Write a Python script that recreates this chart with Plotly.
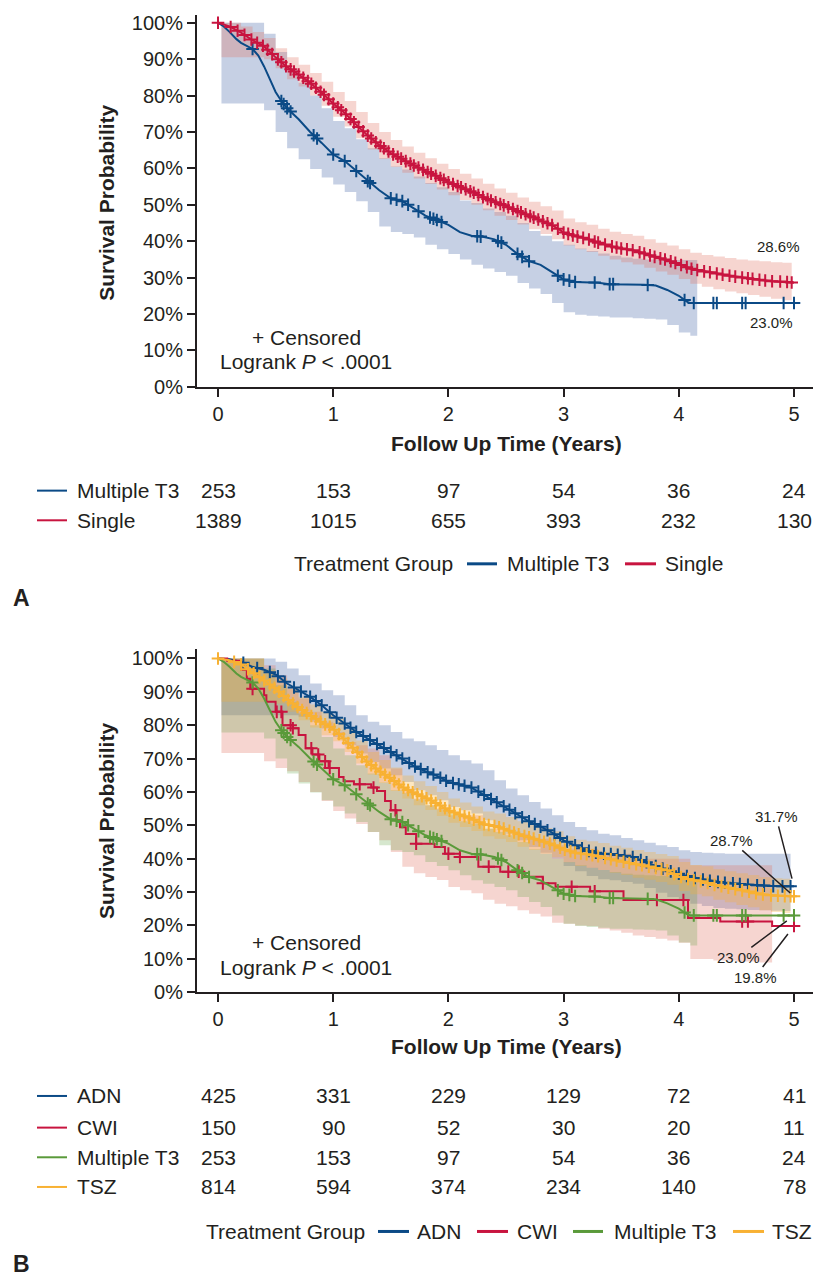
import numpy as np
import plotly.graph_objects as go

W, H = 813, 1285
FONT = "Liberation Sans, Arial, Helvetica, sans-serif"
TXT = "#231f20"

# ---------------- data ----------------
years = [0, 1, 2, 3, 4, 5]
pct_ticks = [0, 0.1, 0.2, 0.3, 0.4, 0.5, 0.6, 0.7, 0.8, 0.9, 1.0]
pct_labels = ["0%", "10%", "20%", "30%", "40%", "50%", "60%", "70%", "80%", "90%", "100%"]

grid_t = [0.0, 0.1, 0.2, 0.3, 0.4, 0.5, 0.6, 0.7, 0.8, 0.9,
          1.0, 1.1, 1.2, 1.3, 1.4, 1.5, 1.6, 1.7, 1.8, 1.9,
          2.0, 2.1, 2.2, 2.3, 2.4, 2.5, 2.6, 2.7, 2.8, 2.9,
          3.0, 3.1, 3.2, 3.3, 3.4, 3.5, 3.6, 3.7, 3.8, 3.9,
          4.0, 4.1, 4.2, 4.3, 4.4, 4.5, 4.6, 4.7, 4.8, 4.9, 5.0]

# Single (panel A)
single_s = [1.0, 0.99, 0.973, 0.952, 0.935, 0.905, 0.878, 0.858, 0.835, 0.808,
            0.778, 0.752, 0.72, 0.69, 0.664, 0.642, 0.625, 0.608, 0.593, 0.578,
            0.562, 0.549, 0.536, 0.521, 0.508, 0.496, 0.483, 0.47, 0.457, 0.444,
            0.424, 0.414, 0.407, 0.396, 0.387, 0.38, 0.375, 0.366, 0.356, 0.348,
            0.337, 0.325, 0.318, 0.313, 0.307, 0.302, 0.298, 0.294, 0.29, 0.289, 0.286]
single_band_t = [0.03, 0.1, 0.2, 0.3, 0.4, 0.5, 0.6, 0.7, 0.8, 0.9,
                 1.0, 1.1, 1.2, 1.3, 1.4, 1.5, 1.6, 1.7, 1.8, 1.9,
                 2.0, 2.1, 2.2, 2.3, 2.4, 2.5, 2.6, 2.7, 2.8, 2.9,
                 3.0, 3.1, 3.2, 3.3, 3.4, 3.5, 3.6, 3.7, 3.8, 3.9,
                 4.0, 4.1, 4.2, 4.3, 4.4, 4.5, 4.6, 4.7, 4.8, 4.9, 4.98]
single_hi = [1.0, 1.0, 0.99, 0.975, 0.958, 0.93, 0.905, 0.885, 0.862, 0.838,
             0.81, 0.785, 0.755, 0.725, 0.70, 0.678, 0.66, 0.643, 0.628, 0.613,
             0.598, 0.585, 0.572, 0.558, 0.545, 0.533, 0.52, 0.508, 0.496, 0.484,
             0.462, 0.452, 0.445, 0.434, 0.426, 0.42, 0.415, 0.405, 0.396, 0.388,
             0.378, 0.368, 0.362, 0.358, 0.354, 0.35, 0.347, 0.345, 0.342, 0.341, 0.34]
single_lo = [0.905, 0.905, 0.905, 0.905, 0.90, 0.875, 0.845, 0.825, 0.80, 0.772,
             0.742, 0.715, 0.683, 0.652, 0.626, 0.604, 0.588, 0.572, 0.557, 0.542,
             0.526, 0.513, 0.50, 0.485, 0.47, 0.458, 0.446, 0.433, 0.42, 0.405,
             0.388, 0.378, 0.37, 0.36, 0.35, 0.342, 0.336, 0.327, 0.317, 0.308,
             0.296, 0.283, 0.275, 0.268, 0.262, 0.257, 0.252, 0.247, 0.242, 0.238, 0.234]
single_cens = [0.0, 0.11, 0.17, 0.23, 0.29, 0.34, 0.39, 0.43, 0.47, 0.52, 0.55, 0.59, 0.63, 0.66,
               0.7, 0.74, 0.78, 0.81, 0.85, 0.89, 0.92, 0.96, 1.0, 1.04, 1.07, 1.11, 1.15, 1.18,
               1.22, 1.26, 1.3, 1.33, 1.37, 1.41, 1.44, 1.48, 1.52, 1.56, 1.59, 1.63, 1.67, 1.7,
               1.74, 1.78, 1.82, 1.85, 1.89, 1.93, 1.96, 2.0, 2.04, 2.08, 2.11, 2.15, 2.19, 2.22,
               2.26, 2.3, 2.34, 2.37, 2.41, 2.45, 2.48, 2.52, 2.56, 2.6, 2.63, 2.67, 2.71, 2.74,
               2.78, 2.82, 2.86, 2.9, 2.95, 3.0, 3.04, 3.08, 3.12, 3.17, 3.22, 3.27, 3.3, 3.36,
               3.42, 3.46, 3.5, 3.55, 3.6, 3.66, 3.7, 3.75, 3.79, 3.84, 3.88, 3.93, 3.97, 4.02,
               4.07, 4.11, 4.16, 4.22, 4.27, 4.33, 4.38, 4.44, 4.49, 4.55, 4.6, 4.64, 4.7, 4.75,
               4.81, 4.88, 4.94, 4.98]

# Multiple T3 (panel A blue, panel B green)
mt3_t = [0, 0.05, 0.1, 0.16, 0.2, 0.3, 0.35, 0.4, 0.45, 0.5, 0.55,
         0.6, 0.7, 0.8, 0.9, 1.0, 1.1, 1.2, 1.3, 1.4, 1.5, 1.6, 1.7, 1.8, 1.9, 2.0,
         2.1, 2.2, 2.3, 2.4, 2.5, 2.6, 2.7, 2.8, 2.9, 3.0,
         3.1, 3.2, 3.3, 3.4, 3.5, 3.6, 3.7, 3.8, 3.9, 4.0, 4.07, 4.1, 5.0]
mt3_s = [1.0, 0.99, 0.975, 0.955, 0.945, 0.928, 0.91, 0.88, 0.845, 0.81, 0.785,
         0.765, 0.735, 0.70, 0.67, 0.638, 0.62, 0.593, 0.565, 0.54, 0.518, 0.51, 0.49, 0.47, 0.458, 0.445,
         0.425, 0.415, 0.412, 0.405, 0.39, 0.365, 0.345, 0.335, 0.315, 0.295,
         0.288, 0.288, 0.286, 0.282, 0.282, 0.282, 0.28, 0.278, 0.266, 0.25, 0.234, 0.23, 0.23]
mt3_band_t = [0.03, 0.1, 0.2, 0.3, 0.4, 0.5, 0.6, 0.7, 0.8, 0.9,
              1.0, 1.1, 1.2, 1.3, 1.4, 1.5, 1.6, 1.7, 1.8, 1.9,
              2.0, 2.1, 2.2, 2.3, 2.4, 2.5, 2.6, 2.7, 2.8, 2.9,
              3.0, 3.1, 3.2, 3.3, 3.4, 3.5, 3.6, 3.7, 3.8, 3.9,
              4.0, 4.1, 4.16]
mt3_hi = [1.0, 1.0, 1.0, 1.0, 0.97, 0.92, 0.87, 0.835, 0.80, 0.765,
          0.73, 0.71, 0.68, 0.655, 0.628, 0.605, 0.597, 0.578, 0.56, 0.548,
          0.535, 0.512, 0.505, 0.49, 0.48, 0.47, 0.45, 0.428, 0.415, 0.40,
          0.39, 0.38, 0.373, 0.366, 0.36, 0.355, 0.352, 0.35, 0.348, 0.348,
          0.348, 0.348, 0.348]
mt3_lo = [0.778, 0.778, 0.778, 0.778, 0.76, 0.70, 0.655, 0.625, 0.598, 0.575,
          0.556, 0.535, 0.51, 0.48, 0.44, 0.425, 0.42, 0.41, 0.39, 0.378,
          0.365, 0.35, 0.335, 0.325, 0.315, 0.305, 0.285, 0.27, 0.255, 0.23,
          0.205, 0.198, 0.195, 0.193, 0.19, 0.19, 0.188, 0.187, 0.185, 0.17,
          0.149, 0.14, 0.14]
mt3_cens = [0.3, 0.55, 0.57, 0.6, 0.63, 0.83, 0.86, 1.0, 1.1, 1.2, 1.3, 1.32, 1.5, 1.55, 1.6,
            1.65, 1.74, 1.84, 1.87, 1.9, 1.94, 2.25, 2.28, 2.43, 2.46, 2.6, 2.64, 2.7, 2.95,
            3.0, 3.05, 3.1, 3.27, 3.4, 3.43, 3.73, 4.05, 4.13, 4.3, 4.33, 4.55, 4.58, 4.91, 5.0]

# ADN (panel B)
adn_s = [1.0, 0.998, 0.99, 0.975, 0.966, 0.952, 0.925, 0.905, 0.885, 0.86,
         0.83, 0.805, 0.78, 0.76, 0.74, 0.72, 0.70, 0.678, 0.662, 0.648,
         0.63, 0.622, 0.613, 0.593, 0.573, 0.553, 0.532, 0.512, 0.496, 0.478,
         0.455, 0.44, 0.425, 0.416, 0.414, 0.41, 0.405, 0.392, 0.378, 0.365,
         0.355, 0.345, 0.338, 0.332, 0.328, 0.325, 0.322, 0.32, 0.318, 0.317, 0.317]
b_band_t = [0.03, 0.1, 0.2, 0.3, 0.4, 0.5, 0.6, 0.7, 0.8, 0.9,
            1.0, 1.1, 1.2, 1.3, 1.4, 1.5, 1.6, 1.7, 1.8, 1.9,
            2.0, 2.1, 2.2, 2.3, 2.4, 2.5, 2.6, 2.7, 2.8, 2.9,
            3.0, 3.1, 3.2, 3.3, 3.4, 3.5, 3.6, 3.7, 3.8, 3.9,
            4.0, 4.1, 4.2, 4.3, 4.4, 4.5, 4.6, 4.7, 4.8, 4.9, 4.97]
adn_hi = [1.0, 1.0, 1.0, 1.0, 1.0, 0.99, 0.97, 0.95, 0.925, 0.905,
          0.89, 0.86, 0.83, 0.81, 0.80, 0.78, 0.76, 0.752, 0.74, 0.726,
          0.71, 0.695, 0.685, 0.665, 0.635, 0.61, 0.59, 0.57, 0.55, 0.53,
          0.51, 0.495, 0.485, 0.475, 0.47, 0.462, 0.455, 0.448, 0.44, 0.435,
          0.425, 0.42, 0.418, 0.416, 0.415, 0.415, 0.415, 0.415, 0.415, 0.415, 0.415]
adn_lo = [0.83, 0.83, 0.83, 0.83, 0.83, 0.83, 0.83, 0.825, 0.81, 0.79,
          0.765, 0.74, 0.715, 0.69, 0.67, 0.65, 0.63, 0.605, 0.59, 0.575,
          0.555, 0.545, 0.535, 0.515, 0.495, 0.475, 0.455, 0.435, 0.418, 0.40,
          0.378, 0.362, 0.348, 0.338, 0.335, 0.33, 0.325, 0.312, 0.298, 0.285,
          0.275, 0.265, 0.258, 0.252, 0.25, 0.248, 0.246, 0.245, 0.244, 0.243, 0.243]
adn_cens = [0.22, 0.34, 0.45, 0.52, 0.58, 0.66, 0.72, 0.8, 0.85, 0.9, 0.97, 1.03, 1.1, 1.15,
            1.2, 1.26, 1.32, 1.38, 1.44, 1.5, 1.55, 1.6, 1.66, 1.71, 1.76, 1.82, 1.87, 1.93,
            1.98, 2.04, 2.09, 2.14, 2.2, 2.26, 2.31, 2.37, 2.42, 2.48, 2.53, 2.58, 2.64, 2.7,
            2.75, 2.8, 2.86, 2.92, 2.97, 3.03, 3.1, 3.16, 3.22, 3.28, 3.35, 3.41, 3.47, 3.53,
            3.6, 3.67, 3.72, 3.8, 3.86, 3.93, 4.0, 4.07, 4.14, 4.21, 4.27, 4.34, 4.4, 4.47,
            4.53, 4.6, 4.68, 4.74, 4.82, 4.9, 4.97]

# CWI (panel B, step curve)
cwi_t = [0, 0.08, 0.2, 0.25, 0.28, 0.4, 0.42, 0.5, 0.56, 0.65, 0.7, 0.76, 0.82, 0.88, 0.96,
         1.05, 1.09, 1.18, 1.33, 1.38, 1.45, 1.5, 1.55, 1.58, 1.63, 1.72, 1.88, 1.97, 2.1,
         2.26, 2.45, 2.66, 2.82, 2.93, 3.23, 3.52, 4.08, 4.36, 4.81, 5.0]
cwi_s = [1.0, 0.993, 0.966, 0.939, 0.909, 0.89, 0.87, 0.84, 0.80, 0.791, 0.771, 0.731, 0.712, 0.692, 0.672,
         0.645, 0.632, 0.623, 0.613, 0.603, 0.573, 0.545, 0.515, 0.494, 0.474, 0.445, 0.435, 0.415, 0.405,
         0.376, 0.361, 0.346, 0.326, 0.316, 0.302, 0.276, 0.222, 0.212, 0.198, 0.198]
cwi_band_t = [0.03, 0.1, 0.2, 0.3, 0.4, 0.5, 0.6, 0.7, 0.8, 0.9,
              1.0, 1.1, 1.2, 1.3, 1.4, 1.5, 1.6, 1.7, 1.8, 1.9,
              2.0, 2.1, 2.2, 2.3, 2.4, 2.5, 2.6, 2.7, 2.8, 2.9,
              3.0, 3.1, 3.2, 3.3, 3.4, 3.5, 3.6, 3.7, 3.8, 3.9,
              4.0, 4.1, 4.2, 4.3, 4.4, 4.5, 4.6, 4.7, 4.8, 4.81]
cwi_hi = [1.0, 1.0, 1.0, 1.0, 0.98, 0.95, 0.91, 0.88, 0.84, 0.81,
          0.78, 0.75, 0.74, 0.73, 0.71, 0.67, 0.61, 0.58, 0.56, 0.55,
          0.53, 0.53, 0.53, 0.49, 0.49, 0.475, 0.475, 0.46, 0.46, 0.44,
          0.43, 0.43, 0.43, 0.415, 0.415, 0.415, 0.40, 0.40, 0.40, 0.40,
          0.40, 0.38, 0.38, 0.38, 0.38, 0.38, 0.38, 0.38, 0.38, 0.38]
cwi_lo = [0.717, 0.717, 0.717, 0.717, 0.692, 0.672, 0.662, 0.63, 0.60, 0.573,
          0.543, 0.52, 0.504, 0.48, 0.455, 0.42, 0.376, 0.356, 0.345, 0.336,
          0.315, 0.305, 0.296, 0.277, 0.265, 0.257, 0.245, 0.235, 0.227, 0.208,
          0.205, 0.20, 0.198, 0.19, 0.185, 0.178, 0.17, 0.165, 0.16, 0.155,
          0.148, 0.099, 0.099, 0.095, 0.095, 0.092, 0.092, 0.089, 0.089, 0.089]
cwi_cens = [0.3, 0.51, 0.55, 0.63, 0.65, 0.81, 0.87, 0.93, 0.97, 1.23, 1.35, 1.54, 1.72, 2.0,
            2.1, 2.35, 2.52, 2.61, 2.82, 3.07, 3.27, 3.81, 4.04, 4.55, 4.6, 5.0]

# TSZ (panel B)
tsz_s = [1.0, 0.995, 0.982, 0.958, 0.934, 0.91, 0.878, 0.852, 0.83, 0.808,
         0.79, 0.757, 0.722, 0.688, 0.663, 0.64, 0.615, 0.597, 0.583, 0.565,
         0.545, 0.532, 0.52, 0.504, 0.498, 0.488, 0.474, 0.464, 0.454, 0.443,
         0.428, 0.418, 0.413, 0.407, 0.399, 0.392, 0.385, 0.379, 0.372, 0.365,
         0.347, 0.337, 0.332, 0.322, 0.315, 0.308, 0.302, 0.294, 0.29, 0.288, 0.287]
tsz_hi = [1.0, 1.0, 1.0, 1.0, 0.965, 0.94, 0.91, 0.885, 0.862, 0.84,
          0.82, 0.788, 0.754, 0.72, 0.696, 0.673, 0.649, 0.632, 0.618, 0.60,
          0.58, 0.568, 0.556, 0.541, 0.535, 0.525, 0.512, 0.502, 0.492, 0.482,
          0.467, 0.457, 0.452, 0.447, 0.439, 0.433, 0.426, 0.42, 0.414, 0.408,
          0.39, 0.381, 0.377, 0.368, 0.362, 0.356, 0.351, 0.344, 0.341, 0.34, 0.34]
tsz_lo = [0.87, 0.87, 0.87, 0.87, 0.87, 0.865, 0.84, 0.815, 0.793, 0.77,
          0.752, 0.72, 0.685, 0.652, 0.627, 0.603, 0.58, 0.56, 0.546, 0.528,
          0.508, 0.495, 0.483, 0.467, 0.46, 0.45, 0.436, 0.426, 0.415, 0.404,
          0.389, 0.378, 0.373, 0.366, 0.358, 0.351, 0.343, 0.337, 0.33, 0.322,
          0.303, 0.293, 0.287, 0.277, 0.269, 0.261, 0.254, 0.245, 0.24, 0.237, 0.236]
tsz_cens = [0.0, 0.14, 0.2, 0.26, 0.31, 0.36, 0.4, 0.45, 0.49, 0.53, 0.57, 0.61, 0.65, 0.69,
            0.73, 0.77, 0.81, 0.85, 0.89, 0.93, 0.97, 1.01, 1.05, 1.09, 1.13, 1.17, 1.21, 1.25,
            1.29, 1.33, 1.37, 1.41, 1.45, 1.49, 1.53, 1.57, 1.61, 1.65, 1.69, 1.73, 1.77, 1.81,
            1.85, 1.89, 1.93, 1.97, 2.01, 2.05, 2.1, 2.14, 2.18, 2.22, 2.27, 2.31, 2.35, 2.4,
            2.44, 2.48, 2.53, 2.57, 2.61, 2.66, 2.7, 2.74, 2.79, 2.83, 2.88, 2.92, 2.97, 3.01,
            3.06, 3.1, 3.15, 3.2, 3.25, 3.3, 3.36, 3.41, 3.46, 3.52, 3.57, 3.63, 3.68, 3.74,
            3.8, 3.85, 3.9, 3.96, 4.02, 4.08, 4.13, 4.19, 4.25, 4.31, 4.37, 4.43, 4.49, 4.55,
            4.61, 4.67, 4.73, 4.8, 4.86, 4.92, 4.97, 5.0]

# numbers at risk
risk_mt3 = [253, 153, 97, 54, 36, 24]
risk_single = [1389, 1015, 655, 393, 232, 130]
risk_adn = [425, 331, 229, 129, 72, 41]
risk_cwi = [150, 90, 52, 30, 20, 11]
risk_tsz = [814, 594, 374, 234, 140, 78]

# ---------------- styles ----------------
C_BLUE = "#0b4a86"
C_RED = "#c8143f"
C_GREEN = "#5a9a3a"
C_ORANGE = "#f8b133"
F_BLUE = "rgba(65,98,165,0.30)"
F_RED = "rgba(225,115,98,0.30)"
F_GREEN = "rgba(92,158,58,0.25)"
F_ORANGE = "rgba(248,177,51,0.30)"


def px(x):
    return x / W


def py(y):
    return 1 - y / H


def curve_y(t_arr, s_arr, tc, step=False):
    t_arr = np.asarray(t_arr, float)
    s_arr = np.asarray(s_arr, float)
    tc = np.asarray(tc, float)
    if step:
        idx = np.searchsorted(t_arr, tc, side="right") - 1
        return s_arr[np.clip(idx, 0, len(s_arr) - 1)]
    return np.interp(tc, t_arr, s_arr)


fig = go.Figure()


def add_band(xa, ya, t, lo, hi, color):
    fig.add_trace(go.Scatter(x=t, y=lo, xaxis=xa, yaxis=ya, mode="lines",
                             line=dict(width=0, shape="hv"), hoverinfo="skip", showlegend=False))
    fig.add_trace(go.Scatter(x=t, y=hi, xaxis=xa, yaxis=ya, mode="lines",
                             line=dict(width=0, shape="hv"), fill="tonexty", fillcolor=color,
                             hoverinfo="skip", showlegend=False))


def add_curve(xa, ya, t, s, cens, color, step=False):
    fig.add_trace(go.Scatter(x=t, y=s, xaxis=xa, yaxis=ya, mode="lines",
                             line=dict(color=color, width=2, shape="hv" if step else "linear"),
                             showlegend=False))
    fig.add_trace(go.Scatter(x=cens, y=curve_y(t, s, cens, step), xaxis=xa, yaxis=ya, mode="markers",
                             marker=dict(symbol="cross-thin", size=9, color=color,
                                         line=dict(width=2, color=color)),
                             showlegend=False))


# Panel A
add_band("x", "y", mt3_band_t, mt3_lo, mt3_hi, F_BLUE)
add_band("x", "y", single_band_t, single_lo, single_hi, F_RED)
add_curve("x", "y", mt3_t, mt3_s, mt3_cens, C_BLUE)
add_curve("x", "y", grid_t, single_s, single_cens, C_RED)

# Panel B
add_band("x2", "y2", b_band_t, adn_lo, adn_hi, F_BLUE)
add_band("x2", "y2", cwi_band_t, cwi_lo, cwi_hi, F_RED)
add_band("x2", "y2", mt3_band_t, mt3_lo, mt3_hi, F_GREEN)
add_band("x2", "y2", b_band_t, tsz_lo, tsz_hi, F_ORANGE)
add_curve("x2", "y2", grid_t, adn_s, adn_cens, C_BLUE)
add_curve("x2", "y2", cwi_t, cwi_s, cwi_cens, C_RED, step=True)
add_curve("x2", "y2", mt3_t, mt3_s, mt3_cens, C_GREEN)
add_curve("x2", "y2", grid_t, tsz_s, tsz_cens, C_ORANGE)

axis_common = dict(showline=True, linecolor=TXT, linewidth=2, ticks="outside", ticklen=8,
                   tickwidth=2, tickcolor=TXT, showgrid=False, zeroline=False,
                   tickfont=dict(family=FONT, size=20, color=TXT))
xr = [-(218 - 197) / 115.2, (813 - 218) / 115.2]

annotations = []
shapes = []


def text(x, y, s, size=21, bold=False, xanchor="center", xref="paper", angle=0, yanchor="middle"):
    annotations.append(dict(x=x, y=y, xref=xref, yref="paper", text=f"<b>{s}</b>" if bold else s,
                            showarrow=False, xanchor=xanchor, yanchor=yanchor, textangle=angle,
                            font=dict(family=FONT, size=size, color=TXT)))


def hline(x0, x1, y, color, width):
    shapes.append(dict(type="line", xref="paper", yref="paper", x0=px(x0), x1=px(x1),
                       y0=py(y), y1=py(y), line=dict(color=color, width=width)))


text(px(107), py(202), "Survival Probability", size=21, bold=True, angle=-90)
text(px(107), py(827), "Survival Probability", size=21, bold=True, angle=-90)

text(px(506), py(445), "Follow Up Time (Years)", size=21, bold=True)
text(px(506), py(1055), "Follow Up Time (Years)", size=21, bold=True)

text(px(306), py(338), "+ Censored")
text(px(306), py(362), "Logrank <i>P</i> < .0001")
text(px(306), py(950), "+ Censored")
text(px(306), py(975), "Logrank <i>P</i> < .0001")

# risk tables
rowsA = [("Multiple T3", C_BLUE, risk_mt3, 493), ("Single", C_RED, risk_single, 523)]
rowsB = [("ADN", C_BLUE, risk_adn, 1105), ("CWI", C_RED, risk_cwi, 1137),
         ("Multiple T3", C_GREEN, risk_mt3, 1167), ("TSZ", C_ORANGE, risk_tsz, 1197)]
for rows, xref in [(rowsA, "x"), (rowsB, "x2")]:
    for name, col, vals, yr in rows:
        hline(37, 67, yr, col, 2)
        text(px(75), py(yr), name, xanchor="left")
        for t, v in zip(years, vals):
            text(t, py(yr), str(v), xref=xref)

# legends
text(px(292), py(567), "Treatment Group", xanchor="left")
hline(467, 497, 567, C_BLUE, 3)
text(px(505), py(567), "Multiple T3", xanchor="left")
hline(625, 656, 567, C_RED, 3)
text(px(663), py(567), "Single", xanchor="left")

text(px(204), py(1242), "Treatment Group", xanchor="left")
hline(378, 409, 1242, C_BLUE, 3)
text(px(415), py(1242), "ADN", xanchor="left")
hline(477, 508, 1242, C_RED, 3)
text(px(515), py(1242), "CWI", xanchor="left")
hline(573, 603, 1242, C_GREEN, 3)
text(px(612), py(1242), "Multiple T3", xanchor="left")
hline(733, 764, 1242, C_ORANGE, 3)
text(px(770), py(1242), "TSZ", xanchor="left")

text(px(21), py(602), "A", size=23, bold=True)
text(px(21), py(1275), "B", size=23, bold=True)

# end-of-curve labels
lbl_font = dict(family=FONT, size=15, color=TXT)
annotations.append(dict(x=5, y=single_s[-1], xref="x", yref="y", text=f"{single_s[-1]*100:.1f}%",
                        showarrow=False, xshift=-16, yshift=36, font=lbl_font))
annotations.append(dict(x=5, y=mt3_s[-1], xref="x", yref="y", text=f"{mt3_s[-1]*100:.1f}%",
                        showarrow=False, xshift=-23, yshift=-19, font=lbl_font))
for val, ax, ay, so in [(adn_s[-1], -18, -70, 8), (tsz_s[-1], -63, -56, 5),
                        (mt3_s[-1], -56, 42, 9), (cwi_s[-1], -39, 51, 10)]:
    annotations.append(dict(x=5, y=val, xref="x2", yref="y2", text=f"{val*100:.1f}%",
                            showarrow=True, arrowhead=0, arrowwidth=1.5, arrowcolor=TXT,
                            ax=ax, ay=ay, standoff=so, font=lbl_font))

fig.update_layout(
    width=W, height=H, margin=dict(l=0, r=0, t=0, b=0),
    paper_bgcolor="white", plot_bgcolor="white", showlegend=False,
    xaxis=dict(domain=[px(197), 1], range=xr, tickvals=years, anchor="y", **axis_common),
    yaxis=dict(domain=[py(388), py(12)], range=[0, (388 - 12) / 368], tickvals=pct_ticks,
               ticktext=pct_labels, anchor="x", **axis_common),
    xaxis2=dict(domain=[px(197), 1], range=xr, tickvals=years, anchor="y2", **axis_common),
    yaxis2=dict(domain=[py(1000), py(653)], range=[0, (1000 - 653) / 337.3], tickvals=pct_ticks,
                ticktext=pct_labels, anchor="x2", **axis_common),
    annotations=annotations, shapes=shapes,
)

# remove the default page margin so the 813x1285 figure fills the window exactly
fig.write_html("out.html", config={"displayModeBar": False},
               post_script="document.body.style.margin='0';document.body.style.overflow='hidden';")
